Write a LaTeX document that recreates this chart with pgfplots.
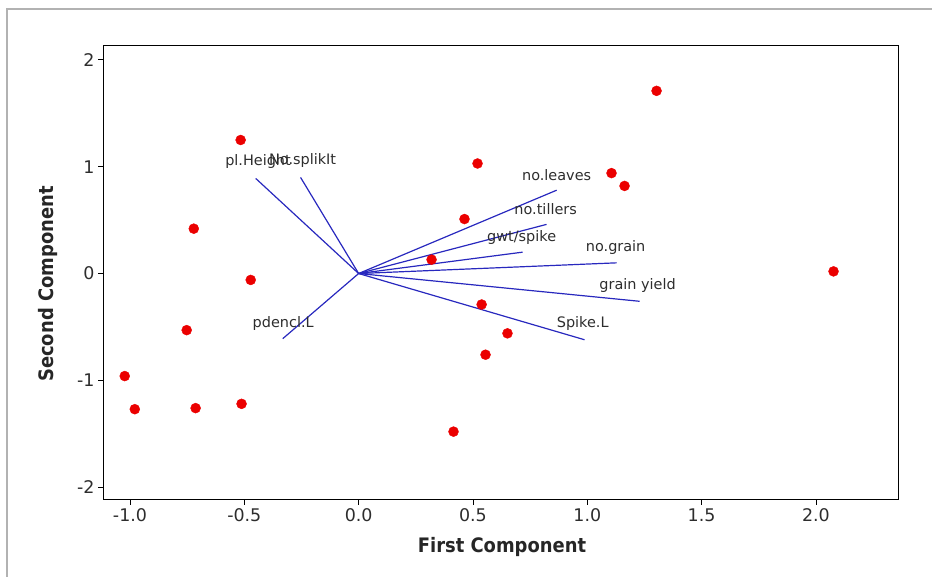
\documentclass[border=0pt]{standalone}
\usepackage{pgfplots}
\pgfplotsset{compat=1.18}
\usepackage{fontspec}
\setmainfont{DejaVu Sans}
\newfontfamily\condfont{DejaVu Sans Condensed}
\definecolor{vec}{RGB}{40,40,190}
\definecolor{dot}{RGB}{235,0,0}
\definecolor{lab}{RGB}{45,45,45}

\begin{document}
\begin{tikzpicture}[x=1bp,y=1bp]
\useasboundingbox (0,0) rectangle (932,577);
\draw[gray!60, line width=1.5bp] (7,-5) -- (7,568) -- (940,568);
\begin{axis}[
  at={(103bp,77bp)}, anchor=south west,
  scale only axis, width=795bp, height=454bp,
  xmin=-1.118, xmax=2.359, ymin=-2.12, ymax=2.13,
  xtick={-1,-0.5,0,0.5,1,1.5,2},
  ytick={-2,-1,0,1,2},
  tick align=outside, tick pos=left,
  major tick length=5bp,
  axis line style={line width=1bp},
  every tick/.style={black, line width=0.8bp},
  /pgf/number format/assume math mode=true,
  xticklabel style={font=\fontsize{17.5}{17.5}\selectfont, text=lab,
    /pgf/number format/.cd, fixed, fixed zerofill, precision=1},
  yticklabel style={font=\fontsize{17.5}{17.5}\selectfont, text=lab},
  clip=false,
]
% observations
\addplot[only marks, mark=*, mark size=5bp, dot, mark options={draw=dot, fill=dot}] coordinates {
(-0.516,1.25) (1.303,1.71) (0.520,1.03) (1.106,0.94) (1.163,0.82)
(-0.721,0.42) (0.463,0.51) (-0.472,-0.06) (0.319,0.13) (2.077,0.02)
(-0.752,-0.53) (0.538,-0.29) (0.651,-0.56) (0.555,-0.76) (-1.023,-0.96)
(-0.979,-1.27) (-0.713,-1.26) (-0.512,-1.22) (0.415,-1.48)
};
% loading vectors
\addplot[vec, line width=1.2bp] coordinates {(0,0) (-0.450,0.89)};
\addplot[vec, line width=1.2bp] coordinates {(0,0) (-0.254,0.90)};
\addplot[vec, line width=1.2bp] coordinates {(0,0) (-0.332,-0.61)};
\addplot[vec, line width=1.2bp] coordinates {(0,0) (0.866,0.78)};
\addplot[vec, line width=1.2bp] coordinates {(0,0) (0.822,0.46)};
\addplot[vec, line width=1.2bp] coordinates {(0,0) (0.717,0.20)};
\addplot[vec, line width=1.2bp] coordinates {(0,0) (1.128,0.10)};
\addplot[vec, line width=1.2bp] coordinates {(0,0) (1.229,-0.26)};
\addplot[vec, line width=1.2bp] coordinates {(0,0) (0.988,-0.62)};
\begin{scope}[every node/.style={font=\fontsize{14.5}{14.5}\selectfont, text=lab, inner sep=0pt}]
\node at (axis cs:-0.44,1.045) {pl.Height};
\node at (axis cs:-0.245,1.06) {No.splikIt};
\node at (axis cs:-0.33,-0.47) {pdencl.L};
\node at (axis cs:0.866,0.92) {no.leaves};
\node at (axis cs:0.818,0.60) {no.tillers};
\node at (axis cs:0.713,0.34) {gwt/spike};
\node at (axis cs:1.124,0.245) {no.grain};
\node at (axis cs:1.22,-0.11) {grain yield};
\node at (axis cs:0.98,-0.47) {Spike.L};
\end{scope}
\end{axis}
\node[font=\condfont\bfseries\fontsize{20}{20}\selectfont, text=black!85, anchor=base] at (502,24) {First Component};
\node[font=\condfont\bfseries\fontsize{20}{20}\selectfont, text=black!85, rotate=90, anchor=center] at (48,293) {Second Component};
\end{tikzpicture}
\end{document}
